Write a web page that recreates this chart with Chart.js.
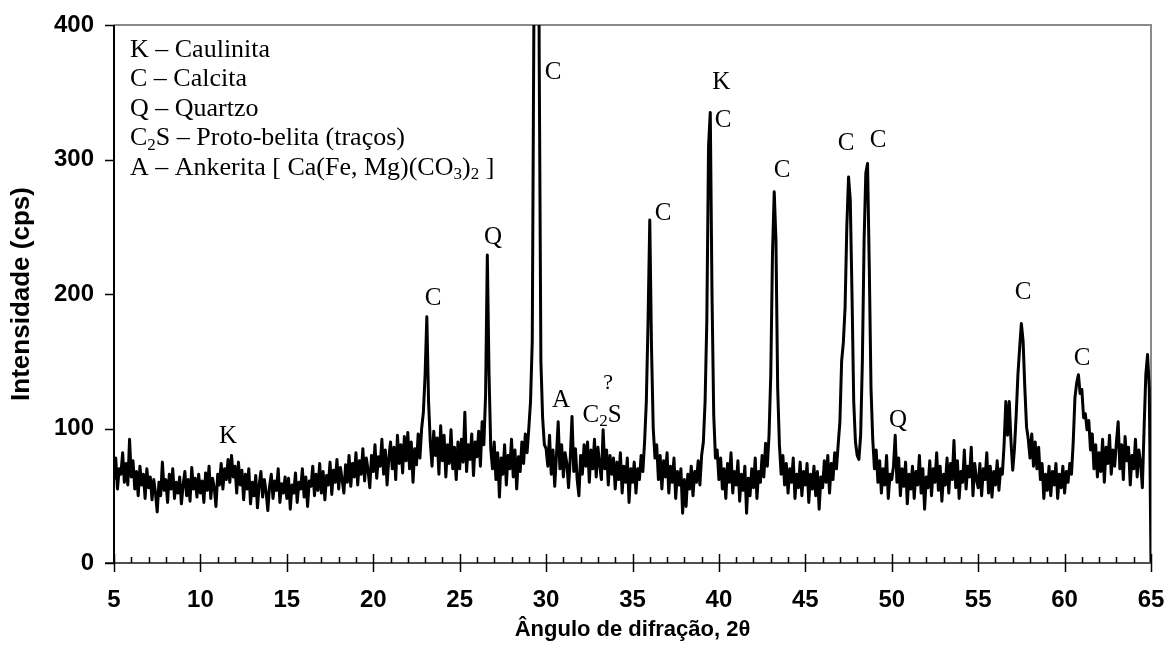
<!DOCTYPE html>
<html>
<head>
<meta charset="utf-8">
<script src="https://cdn.jsdelivr.net/npm/chart.js@4.4.1/dist/chart.umd.min.js"></script>
<style>
  html, body { margin: 0; padding: 0; background: #fff; }
  #wrap { width: 1170px; height: 649px; }
</style>
</head>
<body>
<div id="wrap"><canvas id="xrd_chart"></canvas></div>
<script>
// diffractogram: 2-theta from 5 to 65 deg, one reading every 0.1 deg
var angleStart = 5.0;
var angleStep = 0.1;

// intensities (cps), in 5-degree blocks
var int05to10 = [62, 78, 55, 70, 66, 82, 60, 74, 58, 92, 64, 76, 55, 68, 50, 72, 58, 66, 48, 70,
  56, 64, 47, 62, 52, 38, 60, 50, 75, 54, 62, 45, 66, 55, 70, 48, 60, 52, 64, 44,
  58, 68, 50, 62, 46, 71, 55, 63, 49, 66];
var int10to15 = [52, 61, 45, 67, 54, 72, 48, 63, 56, 42, 66, 58, 74, 55, 70, 62, 77, 60, 80, 64,
  72, 52, 75, 58, 69, 47, 66, 55, 70, 44, 60, 50, 65, 41, 58, 68, 49, 62, 53, 39,
  57, 66, 48, 61, 54, 70, 45, 59, 52, 64];
var int15to20 = [48, 63, 40, 58, 52, 67, 45, 60, 55, 70, 49, 64, 42, 61, 57, 72, 50, 66, 54, 74,
  52, 68, 47, 65, 58, 75, 51, 69, 60, 77, 55, 71, 62, 52, 73, 60, 80, 57, 74, 64,
  82, 58, 76, 66, 85, 61, 78, 69, 56, 80];
var int20to25 = [68, 88, 63, 79, 72, 92, 66, 84, 58, 78, 90, 70, 86, 62, 95, 74, 88, 67, 94, 76,
  97, 70, 90, 60, 85, 73, 96, 78, 100, 112, 140, 183, 120, 90, 72, 98, 80, 93, 66, 102,
  76, 95, 64, 88, 74, 99, 70, 86, 62, 90];
var int25to30 = [70, 92, 75, 112, 68, 88, 77, 96, 65, 90, 79, 98, 72, 105, 88, 125, 229, 140, 85, 70,
  90, 62, 82, 49, 78, 66, 88, 58, 80, 70, 92, 64, 84, 55, 79, 68, 90, 74, 96, 82,
  100, 120, 165, 420, 1100, 900, 380, 150, 108, 88];
var int30to35 = [85, 72, 95, 66, 84, 57, 80, 105, 70, 88, 64, 82, 74, 56, 78, 109, 68, 85, 62, 50,
  80, 66, 88, 72, 90, 60, 84, 70, 92, 64, 86, 73, 62, 99, 70, 84, 58, 80, 66, 78,
  55, 75, 62, 82, 52, 72, 60, 78, 45, 70];
var int35to40 = [60, 75, 52, 70, 62, 80, 68, 90, 120, 180, 255, 160, 100, 78, 88, 62, 80, 55, 76, 64,
  82, 52, 72, 60, 78, 48, 68, 58, 70, 37, 62, 42, 66, 55, 72, 50, 68, 60, 76, 58,
  80, 90, 120, 180, 310, 335, 200, 110, 78, 84];
var int40to45 = [62, 78, 55, 70, 48, 74, 60, 82, 52, 68, 58, 76, 46, 66, 54, 72, 37, 63, 50, 70,
  56, 78, 48, 68, 60, 80, 64, 89, 72, 95, 140, 230, 276, 240, 130, 88, 66, 80, 58, 74,
  52, 70, 60, 78, 48, 66, 56, 75, 50, 68];
var int45to50 = [58, 74, 45, 66, 55, 72, 50, 68, 40, 64, 56, 76, 60, 80, 52, 74, 62, 82, 70, 88,
  105, 150, 164, 190, 250, 287, 270, 200, 120, 90, 80, 77, 95, 150, 240, 290, 297, 220, 130, 92,
  70, 84, 60, 76, 52, 70, 58, 80, 48, 66];
var int50to55 = [62, 72, 95, 60, 78, 50, 70, 57, 75, 44, 66, 55, 72, 48, 68, 58, 80, 52, 70, 40,
  64, 56, 76, 50, 70, 60, 82, 54, 72, 46, 66, 58, 78, 52, 74, 62, 91, 56, 76, 48,
  68, 60, 84, 55, 72, 64, 86, 50, 74, 62];
var int55to60 = [56, 74, 50, 70, 62, 82, 52, 72, 49, 68, 58, 76, 54, 70, 66, 88, 120, 95, 120, 90,
  69, 85, 110, 140, 160, 178, 165, 130, 101, 92, 78, 96, 72, 90, 70, 86, 62, 74, 48, 66,
  54, 72, 50, 68, 58, 74, 48, 66, 56, 72];
var int60to65 = [52, 68, 60, 74, 66, 90, 123, 134, 140, 126, 129, 108, 111, 99, 106, 84, 96, 70, 88, 64,
  82, 68, 92, 60, 86, 74, 95, 66, 84, 72, 90, 105, 70, 88, 62, 94, 76, 86, 58, 80,
  70, 92, 64, 84, 74, 56, 100, 140, 155, 130, 0];

// axis ticks
var xTickStep = 5;
var xMinorStep = 1;
var yTickStep = 100;

// phase letters over the peaks: label, 2-theta, intensity
var peakText = ['K', 'C', 'Q', 'C', 'A', 'C_2S', '?', 'C', 'K', 'C', 'C', 'C', 'C', 'Q', 'C', 'C'];
var peakAngle = [11.6, 23.46, 26.93, 30.40, 30.87, 33.24, 33.59, 36.77, 40.13, 40.24, 43.66, 47.36, 49.21, 50.37, 57.60, 61.02];
var peakLevel = [94, 197, 242, 365, 121, 110, 134, 260, 357, 329, 292, 312, 314, 106, 201, 152];

// legend block in the top-left corner
var phaseKey = [
  'K \u2013 Caulinita',
  'C \u2013 Calcita',
  'Q \u2013 Quartzo',
  'C_2S \u2013 Proto-belita (tra\u00e7os)',
  'A \u2013 Ankerita [ Ca(Fe, Mg)(CO_3)_2 ]'
];

var intensity = [].concat(int05to10, int10to15, int15to20, int20to25, int25to30, int30to35,
  int35to40, int40to45, int45to50, int50to55, int55to60, int60to65);
var points = intensity.map(function (v, i) {
  return { x: Math.round((angleStart + i * angleStep) * 10) / 10, y: v };
});

var serif = '"Liberation Serif", "Times New Roman", serif';
var sans = '"Liberation Sans", Arial, sans-serif';

// draws text where "_n" means subscript n
function drawRich(ctx, str, x, y, size, align) {
  var parts = str.split(/_(\d)/);
  var main = size + 'px ' + serif;
  var small = Math.round(size * 0.66) + 'px ' + serif;
  var total = 0;
  parts.forEach(function (p, i) {
    ctx.font = (i % 2) ? small : main;
    total += ctx.measureText(p).width;
  });
  var cx = align === 'center' ? x - total / 2 : x;
  ctx.textAlign = 'left';
  ctx.textBaseline = 'middle';
  parts.forEach(function (p, i) {
    ctx.font = (i % 2) ? small : main;
    ctx.fillText(p, cx, (i % 2) ? y + size * 0.26 : y);
    cx += ctx.measureText(p).width;
  });
}

var framePlugin = {
  id: 'frame',
  beforeDatasetsDraw: function (chart) {
    var ctx = chart.ctx, a = chart.chartArea;
    ctx.save();
    ctx.strokeStyle = '#8a8a8a';
    ctx.lineWidth = 2;
    ctx.beginPath();
    ctx.moveTo(a.left, a.top);
    ctx.lineTo(a.right, a.top);
    ctx.lineTo(a.right, a.bottom);
    ctx.stroke();
    ctx.restore();
  },
  afterDatasetsDraw: function (chart) {
    var ctx = chart.ctx, a = chart.chartArea;
    var xs = chart.scales.x, ys = chart.scales.y;
    ctx.save();
    // axes
    ctx.lineWidth = 2;
    ctx.strokeStyle = '#505050';
    ctx.beginPath();
    ctx.moveTo(a.left - 9, a.bottom);
    ctx.lineTo(a.right, a.bottom);
    ctx.stroke();
    ctx.strokeStyle = '#000';
    ctx.beginPath();
    ctx.moveTo(a.left, a.top);
    ctx.lineTo(a.left, a.bottom);
    ctx.stroke();
    // tick marks
    ctx.lineWidth = 1.5;
    ctx.beginPath();
    for (var v = ys.min; v <= ys.max; v += yTickStep) {
      var py = Math.round(ys.getPixelForValue(v)) + 0.5;
      ctx.moveTo(a.left - 9, py);
      ctx.lineTo(a.left, py);
    }
    for (var d = xs.min; d <= xs.max + 0.001; d += xMinorStep) {
      var px = Math.round(xs.getPixelForValue(d)) + 0.5;
      if ((d - xs.min) % xTickStep === 0) {
        ctx.moveTo(px, a.bottom - 9);
        ctx.lineTo(px, a.bottom + 9);
      } else {
        ctx.moveTo(px, a.bottom - 6);
        ctx.lineTo(px, a.bottom);
      }
    }
    ctx.stroke();

    // peak letters
    ctx.fillStyle = '#000';
    peakText.forEach(function (t, i) {
      var size = t === '?' ? 22 : 25;
      drawRich(ctx, t, xs.getPixelForValue(peakAngle[i]), ys.getPixelForValue(peakLevel[i]), size, 'center');
    });
    // key
    phaseKey.forEach(function (t, i) {
      drawRich(ctx, t, a.left + 16, a.top + 25 + i * 29.5, 26, 'left');
    });
    ctx.restore();
  }
};

var chart = new Chart(document.getElementById('xrd_chart'), {
  type: 'line',
  data: {
    datasets: [{
      data: points,
      borderColor: '#000',
      borderWidth: 3,
      borderJoinStyle: 'round',
      pointRadius: 0,
      tension: 0,
      fill: false
    }]
  },
  options: {
    responsive: true,
    maintainAspectRatio: false,
    animation: false,
    devicePixelRatio: 1,
    layout: { padding: { top: 25, right: 19, left: 0, bottom: 0 } },
    plugins: { legend: { display: false }, tooltip: { enabled: false } },
    scales: {
      x: {
        type: 'linear',
        min: 5,
        max: 65,
        grid: { display: false, drawTicks: false },
        border: { display: false },
        ticks: { stepSize: xTickStep, color: '#000', padding: 23, font: { family: sans, size: 24, weight: 'bold' } },
        title: {
          display: true,
          text: '\u00c2ngulo de difra\u00e7\u00e3o, 2\u03b8',
          color: '#000',
          padding: { top: 0, bottom: 6 },
          font: { family: sans, size: 22, weight: 'bold' }
        },
        afterFit: function (s) { s.height = 86; s.paddingLeft = 0; s.paddingRight = 0; }
      },
      y: {
        min: 0,
        max: 400,
        grid: { display: false, drawTicks: false },
        border: { display: false },
        ticks: { stepSize: yTickStep, color: '#000', padding: 20, font: { family: sans, size: 24, weight: 'bold' } },
        title: {
          display: true,
          text: 'Intensidade (cps)',
          color: '#000',
          padding: { top: 6, bottom: 0 },
          font: { family: sans, size: 26, weight: 'bold' }
        },
        afterFit: function (s) { s.width = 114; s.paddingTop = 0; s.paddingBottom = 0; }
      }
    }
  },
  plugins: [framePlugin]
});
</script>
</body>
</html>
